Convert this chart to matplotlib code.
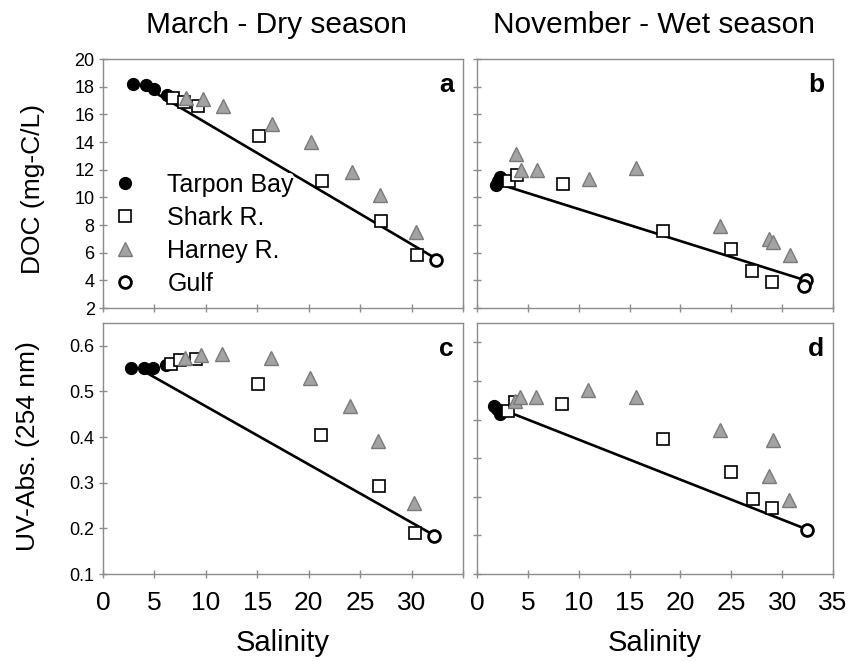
import matplotlib.pyplot as plt

plt.rcParams['font.family'] = ['Liberation Sans', 'DejaVu Sans']

# ---- data ----
# panel a: March DOC
a_tarpon_x = [2.9, 4.2, 5.0, 6.2]
a_tarpon_y = [18.2, 18.1, 17.8, 17.4]
a_shark_x = [6.8, 7.9, 9.2, 15.2, 21.3, 27.0, 30.5]
a_shark_y = [17.2, 16.9, 16.6, 14.4, 11.2, 8.3, 5.8]
a_harney_x = [8.1, 9.7, 11.7, 16.4, 20.2, 24.2, 26.9, 30.4]
a_harney_y = [17.2, 17.1, 16.6, 15.3, 14.0, 11.8, 10.2, 7.5]
a_gulf_x = [32.4]
a_gulf_y = [5.5]
a_mix_x = [4.3, 32.3]
a_mix_y = [17.9, 5.6]

# panel b: November DOC
b_tarpon_x = [1.9, 2.1, 2.3]
b_tarpon_y = [10.9, 11.2, 11.5]
b_shark_x = [3.1, 3.9, 8.5, 18.3, 25.0, 27.0, 29.0]
b_shark_y = [11.2, 11.6, 11.0, 7.6, 6.3, 4.7, 3.9]
b_harney_x = [3.8, 4.3, 5.9, 11.0, 15.6, 23.9, 28.7, 29.1, 30.8]
b_harney_y = [13.1, 12.0, 12.0, 11.3, 12.1, 7.9, 7.0, 6.8, 5.8]
b_gulf_x = [32.3, 32.1]
b_gulf_y = [4.0, 3.6]
b_mix_x = [2.0, 32.3]
b_mix_y = [11.0, 4.0]

# panel c: March UV absorbance
c_tarpon_x = [2.7, 3.95, 4.85, 6.1]
c_tarpon_y = [0.551, 0.551, 0.551, 0.558]
c_shark_x = [6.6, 7.5, 9.0, 15.05, 21.2, 26.8, 30.35]
c_shark_y = [0.560, 0.568, 0.571, 0.516, 0.405, 0.292, 0.189]
c_harney_x = [8.0, 9.55, 11.55, 16.3, 20.1, 24.0, 26.7, 30.2]
c_harney_y = [0.574, 0.580, 0.582, 0.573, 0.529, 0.468, 0.392, 0.256]
c_gulf_x = [32.2]
c_gulf_y = [0.183]
c_mix_x = [3.6, 32.1]
c_mix_y = [0.549, 0.186]

# panel d: November UV absorbance
d_tarpon_x = [1.7, 2.0, 2.3]
d_tarpon_y = [0.436, 0.428, 0.415]
d_shark_x = [3.05, 3.7, 8.4, 18.3, 25.0, 27.1, 29.0]
d_shark_y = [0.422, 0.445, 0.441, 0.350, 0.265, 0.193, 0.172]
d_harney_x = [3.7, 4.2, 5.8, 10.9, 15.6, 23.9, 28.7, 29.1, 30.7]
d_harney_y = [0.447, 0.459, 0.459, 0.476, 0.458, 0.372, 0.254, 0.347, 0.191]
d_gulf_x = [32.4]
d_gulf_y = [0.114]
d_mix_x = [1.8, 32.4]
d_mix_y = [0.433, 0.116]

series_names = ['Tarpon Bay', 'Shark R.', 'Harney R.', 'Gulf']
panel_letters = ['a', 'b', 'c', 'd']
col_titles = ['March - Dry season', 'November - Wet season']

fig = plt.figure(figsize=(8.57, 6.61), dpi=100)

# axes boxes in figure fraction (left, bottom, width, height)
boxes = [
    [0.1202, 0.5340, 0.4201, 0.3767],
    [0.5566, 0.5340, 0.4154, 0.3767],
    [0.1202, 0.1316, 0.4201, 0.3797],
    [0.5566, 0.1316, 0.4154, 0.3797],
]
axes = [fig.add_axes(b) for b in boxes]

panels = [
    (a_tarpon_x, a_tarpon_y, a_shark_x, a_shark_y, a_harney_x, a_harney_y, a_gulf_x, a_gulf_y, a_mix_x, a_mix_y),
    (b_tarpon_x, b_tarpon_y, b_shark_x, b_shark_y, b_harney_x, b_harney_y, b_gulf_x, b_gulf_y, b_mix_x, b_mix_y),
    (c_tarpon_x, c_tarpon_y, c_shark_x, c_shark_y, c_harney_x, c_harney_y, c_gulf_x, c_gulf_y, c_mix_x, c_mix_y),
    (d_tarpon_x, d_tarpon_y, d_shark_x, d_shark_y, d_harney_x, d_harney_y, d_gulf_x, d_gulf_y, d_mix_x, d_mix_y),
]

for i, (ax, p) in enumerate(zip(axes, panels)):
    tx, ty, sx, sy, hx, hy, gx, gy, mx, my = p
    ax.plot(mx, my, color='black', lw=1.9, zorder=2)
    ax.plot(tx, ty, 'o', ms=8.5, mfc='black', mec='black', zorder=3, label=series_names[0])
    ax.plot(sx, sy, 's', ms=8.5, mfc='white', mec='black', mew=1.2, zorder=4, label=series_names[1])
    ax.plot(hx, hy, '^', ms=9.5, mfc='#a3a3a3', mec='#7a7a7a', mew=1.0, zorder=4, label=series_names[2])
    ax.plot(gx, gy, 'o', ms=8.5, mfc='white', mec='black', mew=2.0, zorder=5, label=series_names[3])

    ax.set_xlim(0, 35)
    ax.set_xticks(range(0, 36, 5))
    for sp in ax.spines.values():
        sp.set_color('#8c8c8c')
        sp.set_linewidth(1.0)
    ax.tick_params(direction='inout', length=6, width=1.0, color='#8c8c8c',
                   labelsize=13, pad=3)
    ax.tick_params(axis='x', labelsize=19, pad=9)

    if i < 2:
        ax.set_ylim(2, 20)
        ax.set_yticks(range(2, 21, 2))
        ax.set_xticklabels([])
    else:
        ax.set_xticklabels(['0', '5', '10', '15', '20', '25', '30', ''] if i == 2 else
                           ['0', '5', '10', '15', '20', '25', '30', '35'])
    if i == 2:
        ax.set_ylim(0.1, 0.65)
        ax.set_yticks([0.1, 0.2, 0.3, 0.4, 0.5, 0.6])
    if i == 3:
        ax.set_ylim(0, 0.65)
        ax.set_yticks([0.0, 0.1, 0.2, 0.3, 0.4, 0.5, 0.6])
    if i in (1, 3):
        ax.set_yticklabels([])

    ax.text(0.975, 0.895, panel_letters[i], transform=ax.transAxes, ha='right', va='center',
            fontsize=19, fontweight='bold')

axes[0].legend(loc='center left', bbox_to_anchor=(0.026, 0.295), frameon=True, fontsize=18,
               handletextpad=1.2, labelspacing=0.36, borderpad=0.0, borderaxespad=0.0,
               numpoints=1, handlelength=1.0, facecolor='white', edgecolor='none', framealpha=1)

axes[0].set_ylabel('DOC (mg-C/L)', fontsize=19)
axes[0].yaxis.set_label_coords(-0.161, 0.48)
axes[2].set_ylabel('UV-Abs. (254 nm)', fontsize=19)
axes[2].yaxis.set_label_coords(-0.175, 0.51)
for ax in axes[2:]:
    ax.set_xlabel('Salinity', fontsize=21)
    ax.xaxis.set_label_coords(0.5, -0.22)

fig.text(276 / 857, 1 - 25 / 661, col_titles[0], ha='center', va='center', fontsize=21.5)
fig.text(654 / 857, 1 - 25 / 661, col_titles[1], ha='center', va='center', fontsize=21.5)

fig.savefig('out.png', dpi=100)
